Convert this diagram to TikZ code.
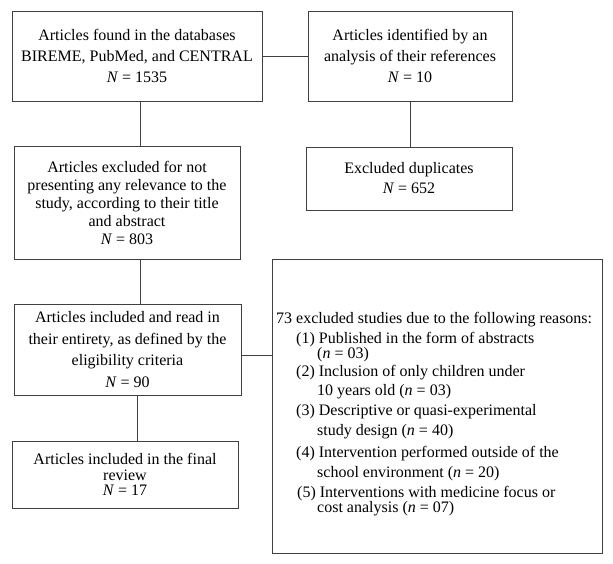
\documentclass[tikz,border=0pt]{standalone}
\usepackage{fontspec}
\setmainfont{Liberation Serif}
\begin{document}
\begin{tikzpicture}[x=1pt,y=-1pt,
    box/.style={draw=black!75, line width=0.9pt, align=center, inner sep=2pt,
        font=\fontsize{16}{21}\selectfont},
    link/.style={draw=black!75, line width=0.9pt}]

    % Area
    \useasboundingbox (0,0) rectangle (613,564);

    % Ricerca iniziale
    \node[box, minimum width=250pt, minimum height=90pt] (found) at (137,56)
        {Articles found in the databases\\BIREME, PubMed, and CENTRAL\\\textit{N} = 1535};
    \node[box, minimum width=204pt, minimum height=90pt] (refs) at (410,56)
        {Articles identified by an\\analysis of their references\\\textit{N} = 10};
    \node[box, minimum width=206pt, minimum height=63pt,
        font=\fontsize{16}{20}\selectfont] (dupl) at (409,178.5)
        {Excluded duplicates\\\textit{N} = 652};

    % Selezione
    \node[box, minimum width=226pt, minimum height=113pt,
        font=\fontsize{16}{18}\selectfont] (notrel) at (127,202.5)
        {Articles excluded for not\\presenting any relevance to the\\study, according to their title\\and abstract\\\textit{N} = 803};
    \node[box, minimum width=227pt, minimum height=91pt,
        font=\fontsize{16}{21.5}\selectfont] (read) at (127.5,349.5)
        {Articles included and read in\\their entirety, as defined by the\\eligibility criteria\\\textit{N} = 90};
    \node[box, minimum width=226pt, minimum height=67pt,
        font=\fontsize{16}{15.5}\selectfont] (final) at (125,474.5)
        {Articles included in the final\\review\\\textit{N} = 17};

    % Motivi di esclusione
    \node[box, minimum width=330pt, minimum height=294pt] (reasons) at (437.5,406) {};
    \node[anchor=north west, inner sep=0pt, align=left,
        font=\fontsize{16}{18}\selectfont] (why) at (276,312)
        {73 excluded studies due to the following reasons:\\[2pt]
        \hspace{20pt}(1) Published in the form of abstracts\\[-3pt]
        \hspace{41pt}(\textit{n} = 03)\\
        \hspace{20pt}(2) Inclusion of only children under\\[1pt]
        \hspace{41pt}10 years old (\textit{n} = 03)\\[2pt]
        \hspace{20pt}(3) Descriptive or quasi-experimental\\[2pt]
        \hspace{41pt}study design (\textit{n} = 40)\\[4pt]
        \hspace{20pt}(4) Intervention performed outside of the\\[2pt]
        \hspace{41pt}school environment (\textit{n} = 20)\\[2pt]
        \hspace{21pt}(5) Interventions with medicine focus or\\[-3pt]
        \hspace{41pt}cost analysis (\textit{n} = 07)};

    % Collegamenti
    \draw[link] (found.east) -- (refs.west);
    \draw[link] (refs.south) -- (refs.south |- dupl.north);
    \draw[link] ([xshift=3pt]found.south) -- ([xshift=3pt]found.south |- notrel.north);
    \draw[link] ([xshift=3pt]found.south |- notrel.south) -- ([xshift=3pt]found.south |- read.north);
    \draw[link] (found.south |- read.south) -- (found.south |- final.north);
    \draw[link] ([yshift=-5.5pt]read.east) -- ([yshift=-5.5pt]read.east -| reasons.west);

\end{tikzpicture}
\end{document}
